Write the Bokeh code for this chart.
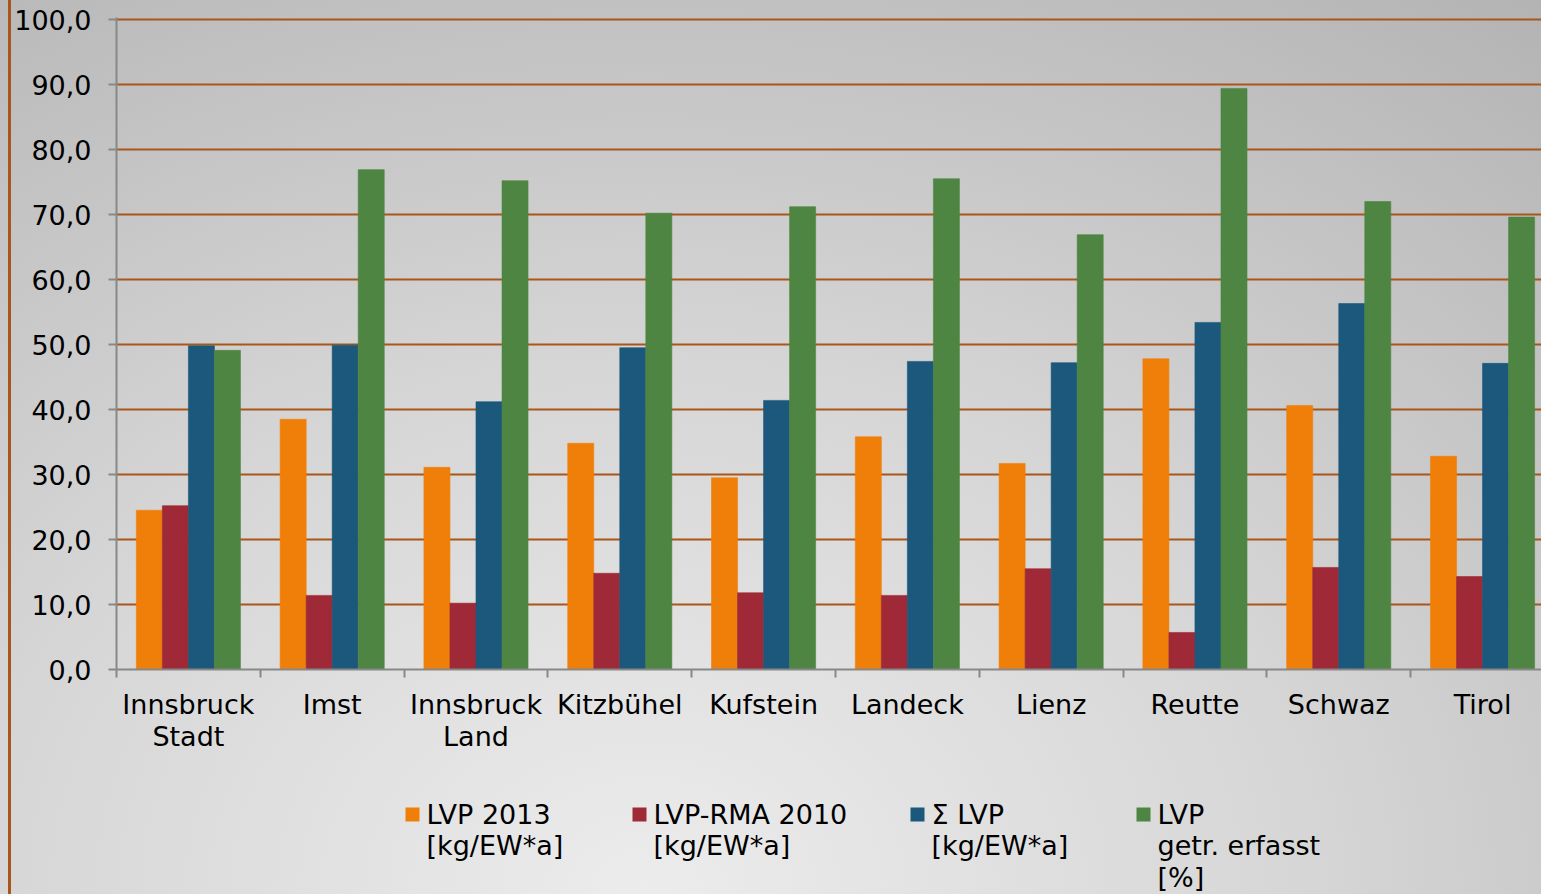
from bokeh.plotting import figure
from bokeh.models import Range1d, FixedTicker, ColumnDataSource
from bokeh.layouts import column
from bokeh.core.properties import value
from bokeh.embed import file_html
from bokeh.resources import INLINE

categories = ["Innsbruck\nStadt", "Imst", "Innsbruck\nLand", "Kitzbühel", "Kufstein",
              "Landeck", "Lienz", "Reutte", "Schwaz", "Tirol"]
lvp_2013 = [24.5, 38.5, 31.1, 34.8, 29.5, 35.8, 31.7, 47.8, 40.6, 32.8]
lvp_rma_2010 = [25.2, 11.4, 10.2, 14.8, 11.8, 11.4, 15.5, 5.7, 15.7, 14.3]
sum_lvp = [49.8, 49.9, 41.2, 49.5, 41.4, 47.4, 47.2, 53.4, 56.3, 47.1]
lvp_getr = [49.1, 76.9, 75.2, 70.2, 71.2, 75.5, 66.9, 89.4, 72.0, 69.6]
series_labels = ["LVP 2013\n[kg/EW*a]", "LVP-RMA 2010\n[kg/EW*a]", "Σ LVP\n[kg/EW*a]",
                 "LVP\ngetr. erfasst\n[%]"]
colors = ["#F07F09", "#9F2936", "#1B587C", "#4E8542"]
y_ticks = [0, 10, 20, 30, 40, 50, 60, 70, 80, 90, 100]

FONT = "DejaVu Sans"
W = 1541
LEFT = 116
H_MAIN, H_LEG = 780, 114

p = figure(width=W, height=H_MAIN, output_backend="svg", toolbar_location=None,
           x_range=Range1d(0, 9.91), y_range=Range1d(0, 100.31),
           min_border_left=LEFT, min_border_right=0, min_border_top=17, min_border_bottom=111)
p.background_fill_alpha = 0
p.border_fill_alpha = 0
p.outline_line_color = None

bw = 0.181
offsets = [-1.5 * bw, -0.5 * bw, 0.5 * bw, 1.5 * bw]
centers = [i + 0.5 for i in range(len(categories))]
series = [lvp_2013, lvp_rma_2010, sum_lvp, lvp_getr]
for vals, off, col in zip(series, offsets, colors):
    src = ColumnDataSource(dict(x=[c + off for c in centers], top=vals))
    p.vbar(x="x", top="top", width=bw, bottom=0, source=src,
           fill_color=col, line_color=col, line_alpha=0.6, line_width=1)

# grid
p.xgrid.grid_line_color = None
p.ygrid.grid_line_color = "#a8561a"
p.ygrid.grid_line_width = 2
p.ygrid.ticker = FixedTicker(ticks=y_ticks[1:])

# y axis
ya = p.yaxis[0]
ya.ticker = FixedTicker(ticks=y_ticks)
ya.major_label_overrides = {t: f"{t:.1f}".replace(".", ",") for t in y_ticks}
ya.major_label_text_font = FONT
ya.major_label_text_font_size = "27px"
ya.major_label_text_color = "#000000"
ya.major_label_standoff = 17
ya.axis_line_color = "#888888"
ya.axis_line_width = 2
ya.major_tick_line_color = "#888888"
ya.major_tick_line_width = 2
ya.major_tick_out = 8
ya.major_tick_in = 0
ya.minor_tick_line_color = None

# x axis
xa = p.xaxis[0]
xa.ticker = FixedTicker(ticks=centers, minor_ticks=list(range(0, 11)))
xa.major_label_overrides = {c: lab for c, lab in zip(centers, categories)}
xa.major_label_text_font = FONT
xa.major_label_text_font_size = "27px"
xa.major_label_text_color = "#000000"
xa.major_label_text_line_height = 1.06
xa.major_label_standoff = 11
xa.axis_line_color = "#888888"
xa.axis_line_width = 2
xa.major_tick_line_color = None
xa.minor_tick_line_color = "#888888"
xa.minor_tick_line_width = 2
xa.minor_tick_out = 8
xa.minor_tick_in = 0

# legend strip (page-pixel coordinates; its frame is aligned with the chart frame)
leg = figure(width=W, height=H_LEG, output_backend="svg", toolbar_location=None,
             x_range=Range1d(LEFT, W), y_range=Range1d(0, H_LEG),
             min_border=0, min_border_left=LEFT, x_axis_type=None, y_axis_type=None)
leg.background_fill_alpha = 0
leg.border_fill_alpha = 0
leg.outline_line_color = None
leg.grid.visible = False

legend_x = [405, 632, 910, 1136]
swatch = 14
leg_src = ColumnDataSource(dict(
    sx=[x + swatch / 2 for x in legend_x],
    sy=[H_LEG - 34] * 4,
    tx=[x + swatch + 7 for x in legend_x],
    ty=[H_LEG - 18] * 4,
    color=colors,
    label=series_labels,
))
leg.rect(x="sx", y="sy", width=swatch, height=swatch, fill_color="color",
         line_color=None, source=leg_src)
leg.text(x="tx", y="ty", text="label", source=leg_src, text_font=value(FONT),
         text_font_size="27px", text_color="#000000", text_baseline="top",
         text_align="left", text_line_height=1.03)

layout = column(p, leg, spacing=0)
layout.styles = {"background": "linear-gradient(to right, rgba(0,0,0,0) 8px, #a8561a 8px, #a8561a 11px, rgba(0,0,0,0) 11px), "
                               "radial-gradient(ellipse 95% 130% at 42% 100%, #ececec 0%, #d6d6d6 45%, #b2b2b2 100%)"}

html = file_html(layout, INLINE)
open("out.html", "w").write(html)
